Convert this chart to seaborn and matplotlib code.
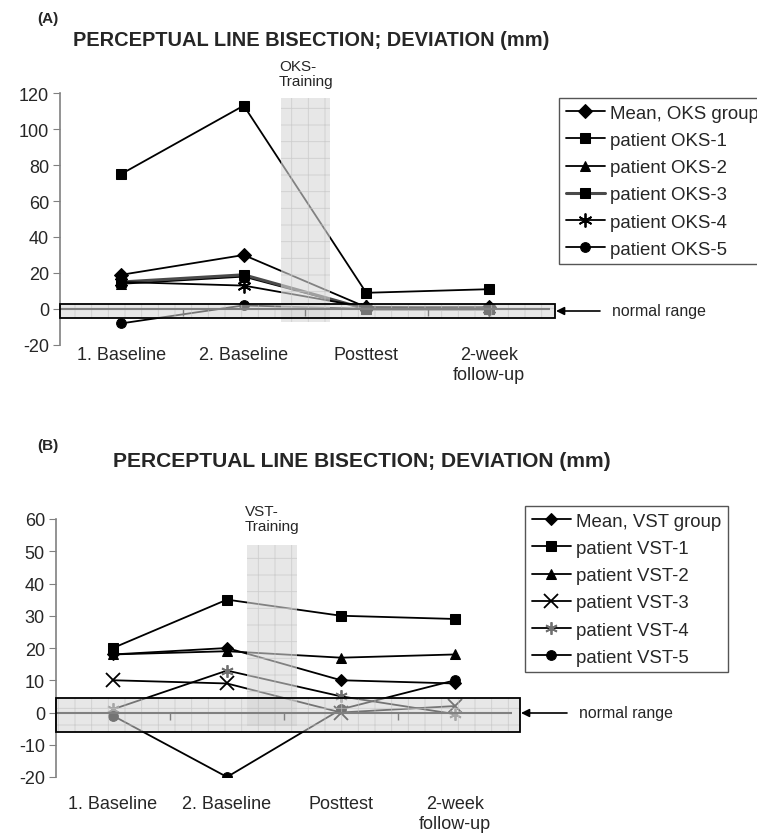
import numpy as np
import pandas as pd
import matplotlib.pyplot as plt
import seaborn as sns
from matplotlib.patches import Rectangle

sns.set_style("ticks")
plt.rcParams['font.family'] = ['Liberation Sans', 'DejaVu Sans']
plt.rcParams['axes.unicode_minus'] = False
plt.rcParams['hatch.linewidth'] = 0.6

# sessions (x categories)
sessions = ["1. Baseline", "2. Baseline", "Posttest", "2-week\nfollow-up"]

# panel A: optokinetic stimulation group
oks_names = ["Mean, OKS group", "patient OKS-1", "patient OKS-2",
             "patient OKS-3", "patient OKS-4", "patient OKS-5"]
oks_mean = [19, 30, 1, 1]
oks_p1 = [75, 113, 9, 11]
oks_p2 = [14, 18, 0, 0]
oks_p3 = [15, 19, 0, 0]
oks_p4 = [15, 13, 1, 0]
oks_p5 = [-8, 2, 0, 0]

# panel B: visual scanning training group
vst_names = ["Mean, VST group", "patient VST-1", "patient VST-2",
             "patient VST-3", "patient VST-4", "patient VST-5"]
vst_mean = [18, 20, 10, 9]
vst_p1 = [20, 35, 30, 29]
vst_p2 = [18, 19, 17, 18]
vst_p3 = [10, 9, 0, 2]
vst_p4 = [1, 13, 5, -0.5]
vst_p5 = [-1, -20, 1, 10]

W, H = 757, 837
fig = plt.figure(figsize=(W / 100, H / 100), dpi=100)


def px_box(l, t, r, b):
    return [l / W, 1 - b / H, (r - l) / W, (b - t) / H]


ASTER = (6, 2, 0)

styles_A = [
    dict(marker="D", ms=7, color="black", mfc="black", mec="black", lw=1.3),
    dict(marker="s", ms=7.5, color="black", mfc="black", mec="black", lw=1.3),
    dict(marker="^", ms=7, color="black", mfc="black", mec="black", lw=1.3),
    dict(marker="s", ms=7, color="#4a4a4a", mfc="black", mec="black", lw=2.2),
    dict(marker=ASTER, ms=10, color="black", mfc="black", mec="black", mew=1.3, lw=1.3),
    dict(marker="o", ms=7, color="black", mfc="black", mec="black", lw=1.3),
]
styles_B = [
    dict(marker="D", ms=6, color="black", mfc="black", mec="black", lw=1.3),
    dict(marker="s", ms=7.5, color="black", mfc="black", mec="black", lw=1.3),
    dict(marker="^", ms=7, color="black", mfc="black", mec="black", lw=1.3),
    dict(marker="x", ms=10, color="black", mfc="black", mec="black", mew=1.3, lw=1.3),
    dict(marker=ASTER, ms=9, color="black", mfc="#707070", mec="#707070", mew=1.3, lw=1.3),
    dict(marker="o", ms=7, color="black", mfc="black", mec="black", lw=1.3),
]


def shade(ax, x0, y0, w, h, fc, alpha, z, clip=True):
    # light grey patch with the faint grid texture of the original
    ax.add_patch(Rectangle((x0, y0), w, h, facecolor=fc, edgecolor="none",
                           alpha=alpha, zorder=z, clip_on=clip))
    ax.add_patch(Rectangle((x0, y0), w, h, facecolor="none", edgecolor="#c4c4c4",
                           lw=0, hatch="+", alpha=0.7, zorder=z + 0.1, clip_on=clip))


def panel(ax, names, series, styles, ylim, yticks, train, normal, leg_xy, xpad):
    x = np.arange(len(sessions))
    for name, vals, st in zip(names, series, styles):
        df = pd.DataFrame({"session": x, "dev": vals})
        sns.lineplot(data=df, x="session", y="dev", ax=ax, label=name,
                     legend=False, **st)

    # training period band (drawn on top, semi transparent like the original)
    tx0, tx1, ty0, ty1 = train
    shade(ax, tx0, ty0, tx1 - tx0, ty1 - ty0, "#d8d8d8", 0.6, 5)
    # normal range box
    nx1, ny0, ny1 = normal
    shade(ax, -0.5, ny0, nx1 + 0.5, ny1 - ny0, "#d4d4d4", 0.55, 6, clip=False)
    ax.add_patch(Rectangle((-0.5, ny0), nx1 + 0.5, ny1 - ny0, facecolor="none",
                           edgecolor="black", lw=1.3, zorder=7, clip_on=False))

    # category axis crossing at zero
    ax.axhline(0, color="#808080", lw=1.5, zorder=6.5)
    bounds = np.arange(len(sessions) - 1) + 0.5
    ax.plot(bounds, np.zeros_like(bounds), ls="none", marker=3, ms=5,
            color="#808080", mew=1, zorder=6.5)

    ax.set_xlim(-0.5, len(sessions) - 0.5)
    ax.set_ylim(*ylim)
    ax.set_yticks(yticks)
    ax.set_xticks(x, sessions)
    ax.set_xlabel("")
    ax.set_ylabel("")
    ax.tick_params(axis="x", length=0, labelsize=13, pad=xpad)
    ax.tick_params(axis="y", length=5, color="#808080", labelsize=13, pad=3)
    for s in ["top", "right", "bottom"]:
        ax.spines[s].set_visible(False)
    ax.spines["left"].set_color("#808080")
    ax.spines["left"].set_linewidth(1.2)

    ax.legend(loc="upper left", bbox_to_anchor=(leg_xy[0] / W, 1 - leg_xy[1] / H),
              bbox_transform=fig.transFigure, frameon=True, fancybox=False,
              edgecolor="#555555", framealpha=1, borderaxespad=0, fontsize=13.4,
              handlelength=2.1, handletextpad=0.3, borderpad=0.35,
              labelspacing=0.55)


axA = fig.add_axes(px_box(60, 94, 550, 346))
panel(axA, oks_names, [oks_mean, oks_p1, oks_p2, oks_p3, oks_p4, oks_p5],
      styles_A, (-20, 120), np.arange(-20, 121, 20),
      train=(1.306, 1.706, -7.2, 117), normal=(3.543, -5.0, 2.8),
      leg_xy=(559, 99), xpad=1)

axB = fig.add_axes(px_box(56, 520, 512, 778))
panel(axB, vst_names, [vst_mean, vst_p1, vst_p2, vst_p3, vst_p4, vst_p5],
      styles_B, (-20, 60), np.arange(-20, 61, 10),
      train=(1.175, 1.614, -4.3, 52), normal=(3.57, -5.9, 4.6),
      leg_xy=(525, 507), xpad=13)

# titles and labels
fig.text(37 / W, 1 - 19 / H, "(A)", fontsize=11, fontweight="bold", va="center")
fig.text(73 / W, 1 - 40 / H, "PERCEPTUAL LINE BISECTION; DEVIATION (mm)",
         fontsize=14.4, fontweight="bold", va="center")
fig.text(37 / W, 1 - 446 / H, "(B)", fontsize=11, fontweight="bold", va="center")
fig.text(113 / W, 1 - 462 / H, "PERCEPTUAL LINE BISECTION; DEVIATION (mm)",
         fontsize=15.1, fontweight="bold", va="center")

fig.text(279 / W, 1 - 60 / H, "OKS-\nTraining", fontsize=11, va="top",
         linespacing=1.1)
fig.text(245 / W, 1 - 505 / H, "VST-\nTraining", fontsize=11, va="top",
         linespacing=1.1)

# normal range arrows
for tx, ty, ax_end in [(612, 312, 556), (579, 714, 521)]:
    fig.text(tx / W, 1 - ty / H, "normal range", fontsize=11.4, va="center")
    axA.annotate("", xy=(ax_end, H - ty), xytext=(tx - 12, H - ty),
                 xycoords="figure pixels", textcoords="figure pixels",
                 arrowprops=dict(arrowstyle="-|>", color="black", lw=1.2,
                                 mutation_scale=12, shrinkA=0, shrinkB=0))

fig.savefig("out.png", dpi=100)
